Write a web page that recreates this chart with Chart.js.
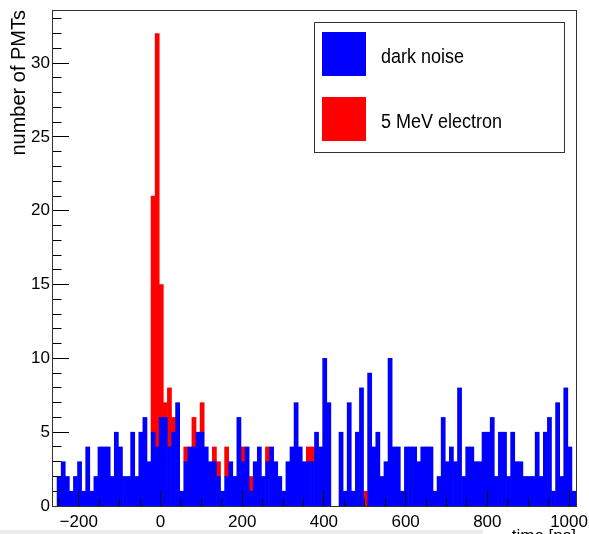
<!DOCTYPE html>
<html>
<head>
<meta charset="utf-8">
<title>PMT hit times</title>
<script src="https://cdn.jsdelivr.net/npm/chart.js@4.4.1/dist/chart.umd.min.js"></script>
<style>
  html, body { margin: 0; padding: 0; background: #fff; }
  #wrap { width: 589px; height: 534px; }
</style>
</head>
<body>
<div id="wrap"><canvas id="hitChart" width="589" height="534"></canvas></div>
<script>
// histogram binning, time in ns
const binLow = -263;
const binWidth = 10;

// number of PMTs per 10 ns bin
const darkNoise = [
  0, 2, 3, 2, 1, 2, 3, 1, 4, 1,
  2, 4, 4, 4, 2, 5, 4, 2, 2, 5,
  2, 5, 6, 3, 5, 4, 6, 6, 4, 5,
  7, 1, 3, 4, 4, 5, 5, 4, 3, 3,
  2, 1, 2, 3, 2, 6, 3, 4, 1, 3,
  4, 2, 3, 4, 3, 2, 1, 3, 4, 7,
  4, 3, 3, 3, 5, 4, 10, 7, 0, 0,
  5, 1, 7, 1, 5, 8, 0, 9, 4, 5,
  2, 3, 10, 4, 4, 1, 4, 4, 4, 3,
  4, 4, 4, 1, 2, 6, 3, 4, 3, 8,
  2, 4, 4, 3, 3, 5, 5, 6, 2, 5,
  5, 2, 5, 3, 3, 2, 2, 2, 5, 2,
  5, 6, 1, 7, 2, 8, 4, 1
];
const electron = [
  0, 0, 0, 0, 0, 0, 0, 0, 0, 0,
  0, 0, 0, 0, 0, 0, 0, 0, 0, 0,
  0, 0, 0, 0, 16, 28, 9, 1, 4, 1,
  0, 0, 1, 0, 2, 0, 2, 0, 0, 1,
  1, 0, 2, 0, 0, 0, 1, 0, 1, 0,
  0, 0, 1, 0, 0, 0, 0, 0, 0, 0,
  0, 0, 1, 1, 0, 0, 0, 0, 0, 0,
  0, 0, 0, 0, 0, 0, 1, 0, 0, 0,
  0, 0, 0, 0, 0, 0, 0, 0, 0, 0,
  0, 0, 0, 0, 0, 0, 0, 0, 0, 0,
  0, 0, 0, 0, 0, 0, 0, 0, 0, 0,
  0, 0, 0, 0, 0, 0, 0, 0, 0, 0,
  0, 0, 0, 0, 0, 0, 0, 0
];

const xTickValues = [-200, 0, 200, 400, 600, 800, 1000];
const yTickValues = [0, 5, 10, 15, 20, 25, 30];
const xMinorStep = 50;
const yMinorStep = 1;
const yMax = 33.6;

const FONT = '"Liberation Sans", Arial, Helvetica, sans-serif';
Chart.defaults.font.family = FONT;
Chart.defaults.color = '#000';

const binCenters = darkNoise.map((_, i) => binLow + binWidth * (i + 0.5));
const toPoints = counts => counts.map((c, i) => ({ x: binCenters[i], y: c }));

// empty bins stay invisible (bars get inflated a bit to close seams)
const fillFor = color => ctx => (ctx.raw && ctx.raw.y === 0) ? 'rgba(0,0,0,0)' : color;

const fmt = v => v < 0 ? '\u2212' + Math.abs(v) : String(v);

// fixed axis sizes, no extra room for overhanging labels
const fixSize = (w, h) => s => {
  if (w !== null) s.width = w;
  if (h !== null) s.height = h;
  s.paddingLeft = s.paddingRight = s.paddingTop = s.paddingBottom = 0;
};

// axis frame, inside tick marks, legend box
const rootStyle = {
  id: 'rootStyle',
  beforeDraw(chart) {
    const { ctx } = chart;
    ctx.save();
    ctx.fillStyle = '#ececec';
    ctx.fillRect(0, 530, 483, 4);
    ctx.restore();
  },
  afterDatasetsDraw(chart) {
    const { ctx, chartArea: a, scales: { x, y } } = chart;
    ctx.save();
    ctx.strokeStyle = '#000';
    ctx.lineWidth = 1;
    ctx.beginPath();
    for (let v = Math.ceil(x.min / xMinorStep) * xMinorStep; v <= x.max; v += xMinorStep) {
      const px = Math.round(x.getPixelForValue(v) - 0.5) + 0.5;
      const len = xTickValues.includes(v) ? 15 : 7.5;
      ctx.moveTo(px, a.bottom);
      ctx.lineTo(px, a.bottom - len);
    }
    for (let v = 0; v <= y.max; v += yMinorStep) {
      const py = Math.round(y.getPixelForValue(v) - 0.5) + 0.5;
      const len = yTickValues.includes(v) ? 16 : 8.5;
      ctx.moveTo(a.left, py);
      ctx.lineTo(a.left + len, py);
    }
    ctx.stroke();
    ctx.strokeStyle = '#333';
    ctx.strokeRect(a.left - 0.5, a.top + 0.5, a.right - a.left + 1, a.bottom - a.top);
    ctx.restore();
  },
  afterDraw(chart) {
    const { ctx } = chart;
    ctx.save();
    ctx.fillStyle = '#fff';
    ctx.fillRect(314, 22, 250, 130);
    ctx.strokeStyle = '#333';
    ctx.lineWidth = 1;
    ctx.strokeRect(314.5, 22.5, 250, 130);
    ctx.font = '18px ' + FONT;
    chart.data.datasets.forEach((ds, i) => {
      const top = 32 + i * 65;
      ctx.fillStyle = ds.legendColor;
      ctx.fillRect(322, top, 44, 44);
      ctx.fillStyle = '#000';
      ctx.save();
      ctx.translate(381, top + 31);
      ctx.scale(1, 1.15);
      ctx.fillText(ds.label, 0, 0);
      ctx.restore();
    });
    ctx.restore();
  }
};

new Chart(document.getElementById('hitChart'), {
  type: 'bar',
  data: {
    datasets: [
      { label: 'dark noise', data: toPoints(darkNoise), backgroundColor: fillFor('#0000ff'), legendColor: '#0000ff' },
      { label: '5 MeV electron', data: toPoints(electron), backgroundColor: fillFor('#ff0000'), legendColor: '#ff0000' }
    ]
  },
  options: {
    responsive: false,
    animation: false,
    devicePixelRatio: 1,
    layout: { padding: { top: 10, right: 13, left: 0, bottom: 0 } },
    datasets: { bar: { barPercentage: 1, categoryPercentage: 1, borderWidth: 0 } },
    plugins: { legend: { display: false }, tooltip: { enabled: false } },
    scales: {
      x: {
        type: 'linear',
        stacked: true,
        offset: false,
        min: binLow,
        max: binLow + binWidth * darkNoise.length,
        grid: { display: false, drawTicks: false },
        border: { display: false },
        afterBuildTicks: s => { s.ticks = xTickValues.map(v => ({ value: v })); },
        afterFit: fixSize(null, 28),
        ticks: { padding: 6, font: { size: 17 }, maxRotation: 0, autoSkip: false, callback: fmt },
        title: { display: true, text: 'time [ns]', align: 'end', font: { size: 17 }, padding: { top: 0, bottom: -13 } }
      },
      y: {
        stacked: true,
        min: 0,
        max: yMax,
        grid: { display: false, drawTicks: false },
        border: { display: false },
        afterBuildTicks: s => { s.ticks = yTickValues.map(v => ({ value: v })); },
        afterFit: fixSize(53, null),
        ticks: { padding: 3, font: { size: 17 }, callback: fmt },
        title: { display: true, text: 'number of PMTs', align: 'end', font: { size: 20 }, padding: { top: 7 } }
      }
    }
  },
  plugins: [rootStyle]
});
</script>
</body>
</html>
